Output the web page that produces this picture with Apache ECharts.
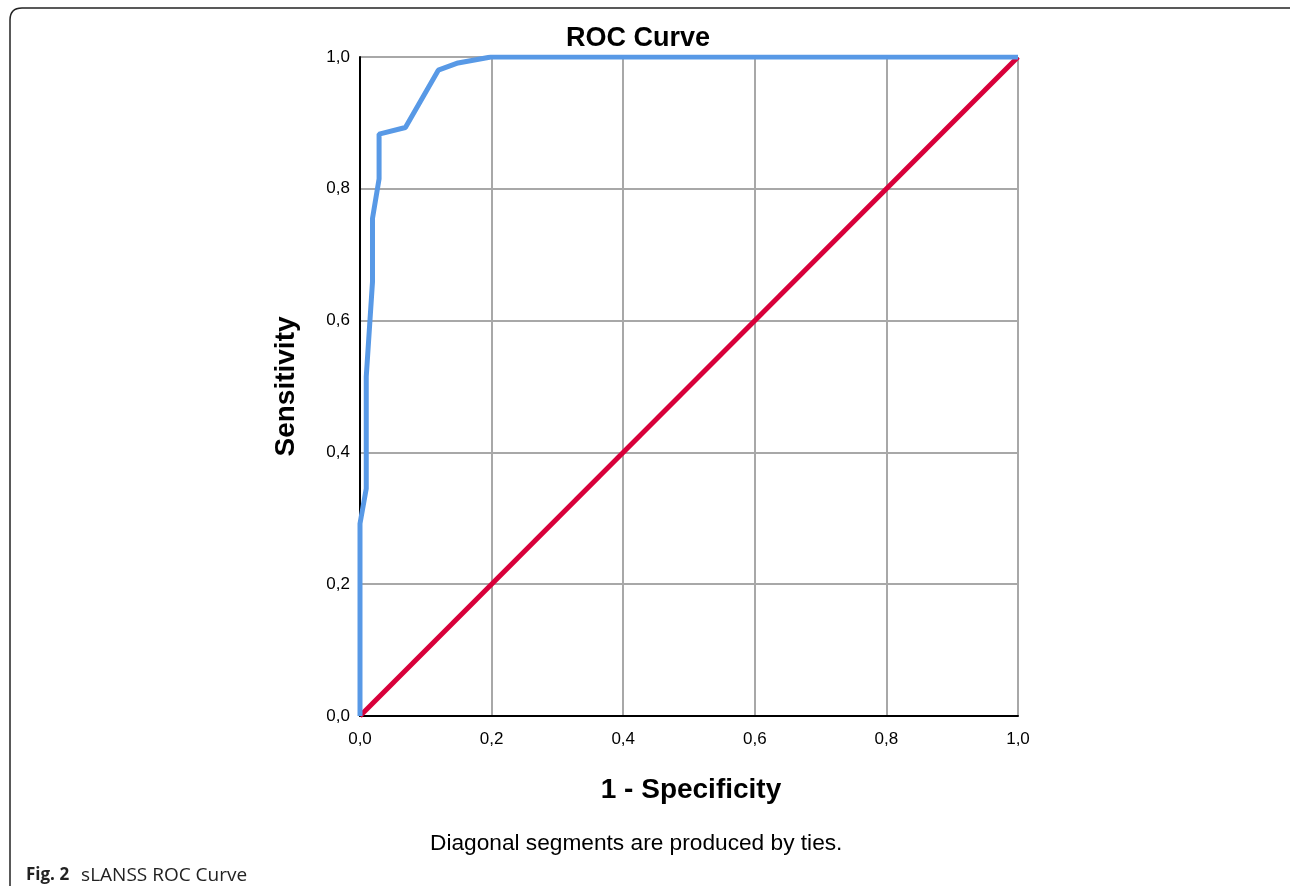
<!DOCTYPE html>
<html>
<head>
<meta charset="utf-8">
<script src="https://cdn.jsdelivr.net/npm/echarts@6/dist/echarts.min.js"></script>
<style>html,body{margin:0;padding:0;background:#fff;}#c{width:1290px;height:894px;}</style>
</head>
<body>
<div id="c"></div>
<script>
const fpr = [0, 0, 0.0095, 0.0095, 0.019, 0.019, 0.029, 0.029, 0.069, 0.119, 0.149, 0.199, 1];
const tpr = [0, 0.292, 0.345, 0.515, 0.659, 0.755, 0.815, 0.883, 0.893, 0.980, 0.991, 1, 1];
const refX = [0, 1];
const refY = [0, 1];
const titleText = 'ROC Curve';
const xName = '1 - Specificity';
const yName = 'Sensitivity';
const note = 'Diagonal segments are produced by ties.';

const fmt = v => v.toFixed(1).replace('.', ',');
const chart = echarts.init(document.getElementById('c'), null, {renderer: 'canvas'});
const FONT = '"Liberation Sans", Arial, sans-serif';
chart.setOption({
  animation: false,
  backgroundColor: '#fff',
  title: {
    text: titleText, left: 633, top: 20, textAlign: 'center',
    textStyle: {fontFamily: FONT, fontWeight: 'bold', fontSize: 27, color: '#000'}
  },
  grid: {left: 360, right: 272, top: 57, bottom: 178},
  xAxis: {
    type: 'value', min: 0, max: 1, interval: 0.2,
    name: xName, nameLocation: 'middle', nameGap: 60,
    nameTextStyle: {fontFamily: FONT, fontWeight: 'bold', fontSize: 28, color: '#000', padding: [0, 0, 0, 4]},
    axisLine: {show: true, onZero: false, lineStyle: {color: '#000', width: 2}},
    axisTick: {show: false},
    axisLabel: {formatter: fmt, fontFamily: FONT, fontSize: 17, color: '#000', margin: 15},
    splitLine: {show: true, lineStyle: {color: '#a8a8a8', width: 2}}
  },
  yAxis: {
    type: 'value', min: 0, max: 1, interval: 0.2,
    name: yName, nameLocation: 'middle', nameGap: 60,
    nameTextStyle: {fontFamily: FONT, fontWeight: 'bold', fontSize: 28, color: '#000'},
    axisLine: {show: true, onZero: false, lineStyle: {color: '#000', width: 2}},
    axisTick: {show: false},
    axisLabel: {formatter: fmt, fontFamily: FONT, fontSize: 17, color: '#000', margin: 10},
    splitLine: {show: true, lineStyle: {color: '#a8a8a8', width: 2}}
  },
  series: [
    {
      type: 'line', data: refX.map((x, i) => [x, refY[i]]),
      symbol: 'none', lineStyle: {color: '#d8003a', width: 5}, z: 3
    },
    {
      type: 'line', data: fpr.map((x, i) => [x, tpr[i]]),
      symbol: 'none', lineStyle: {color: '#5899e6', width: 5}, z: 4
    }
  ],
  graphic: [
    {
      type: 'polyline', silent: true,
      shape: {points: [[1290, 8], [22, 8]]},
      style: {fill: null, stroke: '#222', lineWidth: 1.5}
    },
    {
      type: 'bezierCurve', silent: true,
      shape: {x1: 22, y1: 8, cpx1: 10, cpy1: 8, x2: 10, y2: 20},
      style: {fill: null, stroke: '#222', lineWidth: 1.5}
    },
    {
      type: 'polyline', silent: true,
      shape: {points: [[10, 20], [10, 886]]},
      style: {fill: null, stroke: '#222', lineWidth: 1.5}
    },
    {
      type: 'text', left: 430, top: 832,
      style: {text: note, font: '22.7px "Liberation Sans", Arial, sans-serif', fill: '#000'}
    },
    {
      type: 'text', left: 26, top: 866,
      style: {
        text: '{b|Fig. 2}{s| }{r|sLANSS ROC Curve}',
        rich: {
          b: {fontFamily: '"Open Sans", sans-serif', fontWeight: 'bold', fontSize: 17, fill: '#222'},
          s: {fontSize: 19, width: 12},
          r: {fontFamily: '"Open Sans", sans-serif', fontSize: 19, fill: '#222'}
        }
      }
    }
  ]
});
</script>
</body>
</html>
